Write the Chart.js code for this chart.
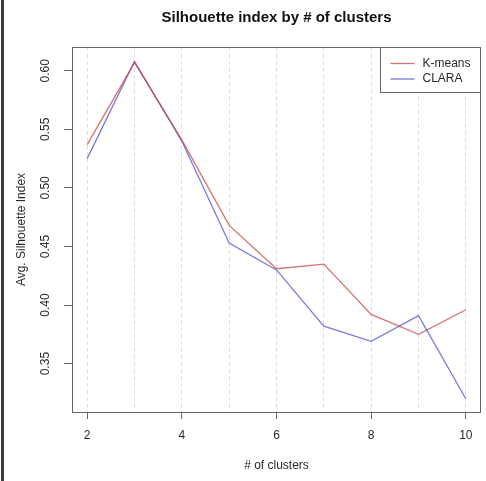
<!DOCTYPE html>
<html>
<head>
<meta charset="utf-8">
<script src="https://cdn.jsdelivr.net/npm/chart.js@4.4.0/dist/chart.umd.min.js"></script>
<style>
  html, body { margin: 0; padding: 0; background: #fff; }
  canvas { display: block; }
</style>
</head>
<body>
<canvas id="silChart" width="486" height="481"></canvas>
<script>
'use strict';

// number of clusters tried
const clusterCounts = [2, 3, 4, 5, 6, 7, 8, 9, 10];
// average silhouette index per k
const kmeansSil = [0.537, 0.607, 0.541, 0.468, 0.431, 0.435, 0.392, 0.375, 0.396];
const claraSil  = [0.525, 0.608, 0.540, 0.453, 0.430, 0.382, 0.369, 0.391, 0.320];
const seriesNames = ['K-means', 'CLARA'];
const yTickValues = [0.35, 0.40, 0.45, 0.50, 0.55, 0.60];
const xTickValues = [2, 3, 4, 5, 6, 7, 8, 9, 10];

const FONT = "'Liberation Sans', Arial, sans-serif";
const AXIS_GREY = '#666';
const TEXT_GREY = '#2a2a2a';

const toPoints = vals => clusterCounts.map((k, i) => ({ x: k, y: vals[i] }));

// box around the plot, legend in the top right corner, page edge line
const framePlugin = {
    id: 'frame',
    beforeDraw(chart) {
        const ctx = chart.ctx;
        ctx.save();
        ctx.fillStyle = '#fff';
        ctx.fillRect(0, 0, chart.width, chart.height);
        ctx.fillStyle = '#3a3a3a';
        ctx.fillRect(1, 0, 3, chart.height);
        ctx.restore();
    },
    afterDraw(chart) {
        const { ctx, chartArea: a } = chart;
        ctx.save();
        ctx.strokeStyle = AXIS_GREY;
        ctx.lineWidth = 1;
        ctx.strokeRect(Math.round(a.left) + 0.5, Math.round(a.top) + 0.5,
                       Math.round(a.right - a.left) - 1, Math.round(a.bottom - a.top));

        // legend
        const boxW = 100, boxH = 45;
        const bx = Math.round(a.right) - boxW - 0.5;
        const by = Math.round(a.top) + 0.5;
        ctx.fillStyle = '#fff';
        ctx.fillRect(bx, by, boxW, boxH);
        ctx.strokeRect(bx, by, boxW, boxH);
        ctx.font = '12px ' + FONT;
        ctx.textBaseline = 'middle';
        ctx.textAlign = 'left';
        chart.data.datasets.forEach((ds, i) => {
            const ly = by + 16 + i * 15.5;
            ctx.strokeStyle = ds.borderColor;
            ctx.lineWidth = 1.3;
            ctx.beginPath();
            ctx.moveTo(bx + 10, ly);
            ctx.lineTo(bx + 34, ly);
            ctx.stroke();
            ctx.fillStyle = TEXT_GREY;
            ctx.fillText(ds.label, bx + 42, ly);
        });
        ctx.restore();
    }
};

new Chart(document.getElementById('silChart'), {
    type: 'line',
    data: {
        datasets: [
            {
                label: seriesNames[0],
                data: toPoints(kmeansSil),
                borderColor: 'rgba(200, 60, 60, 0.72)',
                borderWidth: 1.3,
                pointRadius: 0,
                tension: 0
            },
            {
                label: seriesNames[1],
                data: toPoints(claraSil),
                borderColor: 'rgba(70, 70, 210, 0.72)',
                borderWidth: 1.3,
                pointRadius: 0,
                tension: 0
            }
        ]
    },
    options: {
        responsive: false,
        devicePixelRatio: 1,
        animation: false,
        layout: { padding: { left: 0, right: 5, top: 0, bottom: 0 } },
        plugins: {
            legend: { display: false },
            tooltip: { enabled: false },
            title: {
                display: true,
                fullSize: false,
                text: 'Silhouette index by # of clusters',
                color: '#111',
                font: { family: FONT, size: 15, weight: 'bold' },
                padding: { top: 9, bottom: 20 }
            }
        },
        scales: {
            x: {
                type: 'linear',
                min: 1.68,
                max: 10.32,
                afterBuildTicks(scale) {
                    scale.ticks = xTickValues.map(v => ({ value: v }));
                },
                afterFit(scale) { scale.height = 69; },
                ticks: {
                    autoSkip: false,
                    maxRotation: 0,
                    padding: 9,
                    color: TEXT_GREY,
                    font: { family: FONT, size: 12 },
                    callback: v => (v % 2 === 0 ? String(v) : '')
                },
                grid: {
                    color: '#dddddd',
                    lineWidth: 1,
                    drawTicks: true,
                    tickLength: 7,
                    tickColor: c => (c.tick && c.tick.value % 2 === 0 ? AXIS_GREY : 'rgba(0,0,0,0)'),
                    tickBorderDash: []
                },
                border: { display: false, dash: [4, 3] },
                title: {
                    display: true,
                    text: '# of clusters',
                    color: TEXT_GREY,
                    font: { family: FONT, size: 12 },
                    padding: { top: 0, bottom: 8 }
                }
            },
            y: {
                min: 0.3087,
                max: 0.6203,
                afterBuildTicks(scale) {
                    scale.ticks = yTickValues.map(v => ({ value: v }));
                },
                afterFit(scale) { scale.width = 72; },
                ticks: {
                    minRotation: 90,
                    maxRotation: 90,
                    crossAlign: 'center',
                    padding: 7,
                    color: TEXT_GREY,
                    font: { family: FONT, size: 12 },
                    callback: v => v.toFixed(2)
                },
                grid: {
                    drawOnChartArea: false,
                    drawTicks: true,
                    tickLength: 8,
                    tickColor: AXIS_GREY
                },
                border: { display: false },
                title: {
                    display: true,
                    text: 'Avg. Silhouette Index',
                    color: TEXT_GREY,
                    font: { family: FONT, size: 12 },
                    padding: { top: 14, bottom: 0 }
                }
            }
        }
    },
    plugins: [framePlugin]
});
</script>
</body>
</html>
